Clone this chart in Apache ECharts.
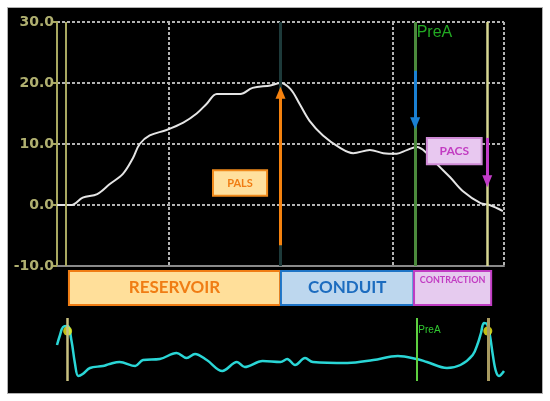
<!DOCTYPE html>
<html><head><meta charset="utf-8">
<script src="https://cdn.jsdelivr.net/npm/echarts@6/dist/echarts.min.js"></script>
<style>
html,body{margin:0;padding:0;background:#fff;}
#wrap{position:relative;width:550px;height:401px;background:#fff;overflow:hidden;}
#c{position:absolute;left:8px;top:8px;width:534px;height:385px;background:#000;box-shadow:0 0 0 1px #b0b0b0;}
</style>
</head><body><div id="wrap"><div id="c"></div></div>
<script>
// ---- data ----
const strainTime  = [0,13,23,36,47,59,68,74,83,98,113,125,134,143,164,175,191,200,209,217,226,238,253,265,280,292,304,313,322,331,340,352,363,379,387,399];
const strainValue = [0,0,1.2,1.8,3.4,5.1,7.7,10,11.4,12.3,13.5,15,16.6,18.2,18.2,19.2,19.6,20,19,16.6,13.8,11.4,9.4,8.5,9,8.5,8.4,9,9.5,8.5,6.7,4.5,2.3,0.3,0,-1];
const ecgTime  = [0,2.7,5.4,9.5,13,16,19,23,29.5,41,47,56,70,77,92,107,116,123.5,134,148,161,168,184,200,206,213,222,229,260,283,305,322,331,349,361,372,376.7,379.4,382,384.8,387.5,390,392.7,395.5,400];
const ecgValue = [36,46,54,55,40,18,5,7,13,15,17,19,15,21,22,28,23,27,21,10,19,14,20,19,22,16,23,19,18,21,25,22,19,13,16,26,38,48,58,57,45,26,10,5,10];
const yTicks = [-10,0,10,20,30];
const phaseNames = ['RESERVOIR','CONDUIT','CONTRACTION'];
const phaseStart = [10.7,200.4,319.5];
const phaseEnd   = [199.6,319,388.5];
const indexNames = ['PALS','PACS'];
const indexX0 = [139.6,331];
const indexX1 = [188,380];
const indexY0 = [1.5,6.7];
const indexY1 = [5.7,11];
const arrowX    = [200,320.5,385];
const arrowFrom = [-6.6,22,11];
const arrowTo   = [18.4,13.4,3.9];
const markerTopX = [8,200,320.5,385];
const markerBotX = [9.5,322,385.5];
const dotX = [9.5,385.5];
const dotY = [50,50];
const preALabelTop = [320.5,30];
const preALabelBot = [322,51];

// ---- styles ----
const phaseStyles = [
  {fill:'#ffdf9a',stroke:'#f07d14',color:'#f07d14',font:'bold 17px Lato',pos:'inside'},
  {fill:'#bdd7ee',stroke:'#1e74c6',color:'#1c6cbf',font:'bold 17px Lato',pos:'inside'},
  {fill:'#e6cbef',stroke:'#c03cc3',color:'#c23cc2',font:'bold 9px Lato',pos:'insideTop',dist:6}
];
const indexStyles = [
  {fill:'#ffe09e',stroke:'#f08a1c',color:'#f07d14',font:'bold 11px Lato',pos:'inside'},
  {fill:'#e8c8f0',stroke:'#d08ad6',color:'#c23cc2',font:'bold 12px Lato',pos:'inside'}
];
const markerTopStyles = [
  {color:'#a8a860',width:2},
  {color:'#1d3a3a',width:3},
  {color:'#4b8a3c',width:3},
  {color:'#d6d692',width:2.5}
];
const markerBotStyles = [
  {color:'#c8c080',width:2.5},
  {color:'#5ed040',width:2},
  {color:'#a89a60',width:3}
];
const arrowColors = ['#f5820f','#1a80d4','#c23cc8'];

function boxRenderer(names, styles){
  return function(params, api){
    const i = params.dataIndex, st = styles[i];
    const p0 = api.coord([api.value(0), api.value(3)]);
    const p1 = api.coord([api.value(1), api.value(2)]);
    return {
      type:'rect',
      shape:{x:p0[0], y:p0[1], width:p1[0]-p0[0], height:p1[1]-p0[1]},
      style:{fill:st.fill, stroke:st.stroke, lineWidth:2},
      textContent:{style:{text:names[i], fill:st.color, font:st.font}},
      textConfig:{position:st.pos, distance:st.dist||0}
    };
  };
}

const chart = echarts.init(document.getElementById('c'));
const gridLine = {color:'#b4b4b4', width:2, type:[3,2]};
chart.setOption({
  animation:false,
  backgroundColor:'#000',
  grid:[
    {left:49, top:14, width:447, height:244},
    {left:49, top:310, width:447, height:63},
    {left:49, top:263, width:447, height:34}
  ],
  xAxis:[
    {gridIndex:0, type:'value', min:0, max:400, interval:100,
     axisLine:{show:true, onZero:false, lineStyle:{color:'#8a8a8a', width:2}},
     axisTick:{show:false}, axisLabel:{show:false},
     splitLine:{show:true, lineStyle:gridLine}},
    {gridIndex:1, type:'value', min:0, max:400, show:false},
    {gridIndex:2, type:'value', min:0, max:400, show:false}
  ],
  yAxis:[
    {gridIndex:0, type:'value', min:yTicks[0], max:yTicks[yTicks.length-1], interval:10,
     axisLine:{show:true, lineStyle:{color:'#a8a860', width:2}},
     axisTick:{show:true, length:5, lineStyle:{color:'#a8a860', width:2}},
     axisLabel:{color:'#b0b070', fontFamily:'DejaVu Sans', fontWeight:'bold', fontSize:14, margin:3,
       formatter:v=>v.toFixed(1)},
     splitLine:{show:true, lineStyle:gridLine}},
    {gridIndex:1, type:'value', min:0, max:63, show:false},
    {gridIndex:2, type:'value', min:0, max:1, show:false}
  ],
  series:[
    {type:'line', xAxisIndex:0, yAxisIndex:0, data:[], z:2,
     markLine:{silent:true, symbol:'none', label:{show:false}, animation:false,
       data:markerTopX.map((x,i)=>({xAxis:x, lineStyle:{color:markerTopStyles[i].color, width:markerTopStyles[i].width, type:'solid'}}))},
     markPoint:{silent:true, symbol:'rect', symbolSize:1, itemStyle:{color:'rgba(0,0,0,0)'},
       data:[{coord:preALabelTop, label:{show:true, formatter:'PreA', position:'right', distance:0, offset:[1,11], color:'#22a822', fontSize:16, fontFamily:'Liberation Sans'}}]}
    },
    {type:'line', xAxisIndex:0, yAxisIndex:0, z:3, symbol:'none', smooth:0.35,
     lineStyle:{color:'#e4e4e4', width:2},
     data:strainTime.map((t,i)=>[t, strainValue[i]])},
    {type:'line', xAxisIndex:0, yAxisIndex:0, data:[], z:4,
     markLine:{silent:true, symbol:['none','triangle'], symbolSize:[10,12], label:{show:false}, animation:false,
       data:arrowX.map((x,i)=>[
         {coord:[x,arrowFrom[i]], lineStyle:{color:arrowColors[i], width:3, type:'solid'}, itemStyle:{color:arrowColors[i]}},
         {coord:[x,arrowTo[i]]}
       ])}
    },
    {type:'custom', xAxisIndex:0, yAxisIndex:0, z:5, silent:true,
     renderItem:boxRenderer(indexNames, indexStyles),
     data:indexNames.map((n,i)=>[indexX0[i], indexX1[i], indexY0[i], indexY1[i]])},
    {type:'custom', xAxisIndex:2, yAxisIndex:2, z:5, silent:true,
     renderItem:boxRenderer(phaseNames, phaseStyles),
     data:phaseNames.map((n,i)=>[phaseStart[i], phaseEnd[i], 0, 1])},
    {type:'line', xAxisIndex:1, yAxisIndex:1, data:[], z:2,
     markLine:{silent:true, symbol:'none', label:{show:false}, animation:false,
       data:markerBotX.map((x,i)=>({xAxis:x, lineStyle:{color:markerBotStyles[i].color, width:markerBotStyles[i].width, type:'solid'}}))},
     markPoint:{silent:true, symbol:'rect', symbolSize:1, itemStyle:{color:'rgba(0,0,0,0)'},
       data:[{coord:preALabelBot, label:{show:true, formatter:'PreA', position:'right', distance:0, offset:[1,0], color:'#30c830', fontSize:10, fontFamily:'Liberation Sans'}}]}
    },
    {type:'line', xAxisIndex:1, yAxisIndex:1, z:3, symbol:'none', smooth:0.35,
     lineStyle:{color:'#2ad6d6', width:2.5},
     data:ecgTime.map((t,i)=>[t, ecgValue[i]])},
    {type:'scatter', xAxisIndex:1, yAxisIndex:1, z:4, symbolSize:9,
     itemStyle:{color:'#f2ee1c'},
     data:dotX.map((x,i)=>[x, dotY[i]])}
  ]
});
</script>
</body></html>
